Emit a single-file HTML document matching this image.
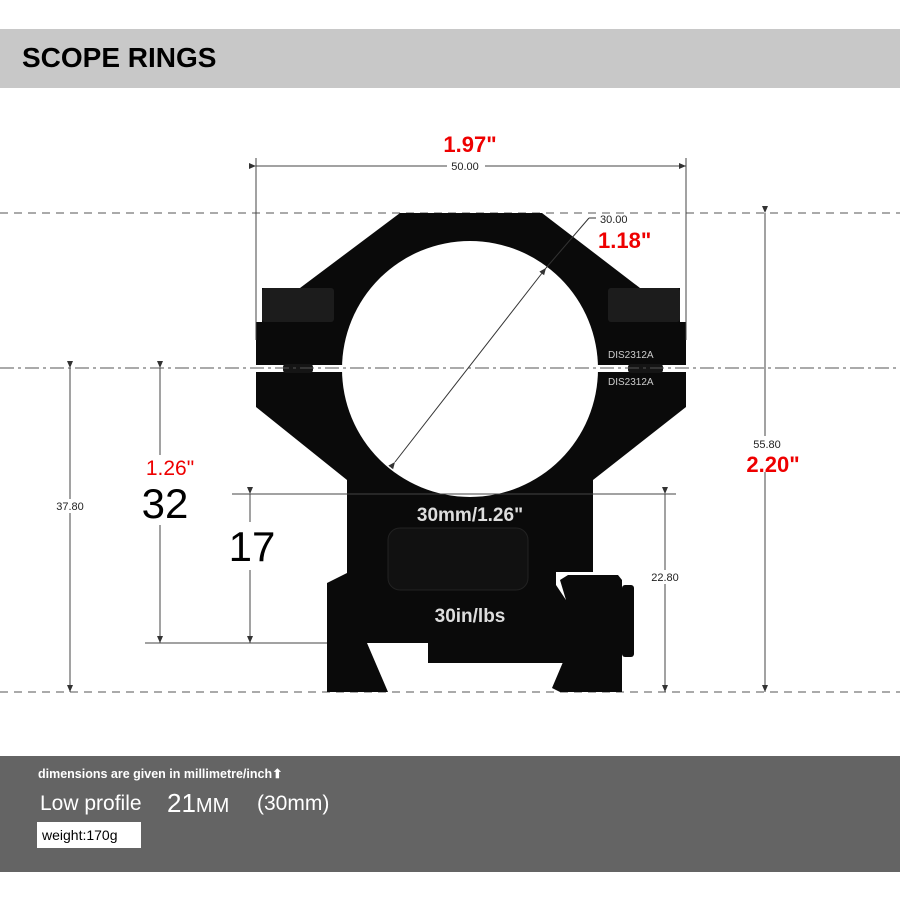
<!DOCTYPE html>
<html><head><meta charset="utf-8"><style>
html,body{margin:0;padding:0;background:#fff;}
body{width:900px;height:900px;position:relative;overflow:hidden;font-family:"Liberation Sans",sans-serif;}
</style></head><body>
<svg width="900" height="900" viewBox="0 0 900 900" style="position:absolute;left:0;top:0">
<defs>
<marker id="a" markerWidth="8" markerHeight="8" refX="7" refY="4" orient="auto" markerUnits="userSpaceOnUse"><path d="M0,1 L7,4 L0,7 Z" fill="#333"/></marker>
</defs>
<rect x="0" y="29" width="900" height="59" fill="#c8c8c8"/>
<text x="22" y="67" font-size="28" font-weight="bold" fill="#000">SCOPE RINGS</text>
<rect x="0" y="756" width="900" height="116" fill="#646464"/>
<text x="38" y="778" font-size="12.5" font-weight="bold" fill="#fff">dimensions are given in millimetre/inch⬆</text>
<text x="40" y="810" font-size="21" fill="#fff">Low profile</text>
<text x="167" y="812" font-size="26" fill="#fff">21<tspan font-size="20">MM</tspan></text>
<text x="257" y="810" font-size="21" fill="#fff">(30mm)</text>
<rect x="37" y="822" width="104" height="26" fill="#fff"/>
<text x="42" y="840" font-size="14" fill="#000">weight:170g</text>

<line x1="0" y1="213" x2="900" y2="213" stroke="#555" stroke-dasharray="8,6"/>
<line x1="0" y1="692" x2="900" y2="692" stroke="#555" stroke-dasharray="8,6"/>

<!-- ring body -->
<g fill="#0a0a0a">
<path d="M400,213 L542,213 L640,288 L680,288 L680,322 L686,322 L686,407 L593,480 L593,572 L556,572 L556,585 L566,600 L566,663 L428,663 L428,643 L367,643 L388,692 L327,692 L327,583 L347,573 L347,480 L256,407 L256,322 L262,322 L262,288 L300,288 Z"/>
<path d="M560,580 L568,575 L618,575 L622,580 L622,692 L560,692 L552,688 L566,655 L566,600 Z"/>
<rect x="622" y="585" width="12" height="72" rx="3"/>
</g>
<rect x="256" y="365" width="430" height="7" fill="#fff"/>
<rect x="283" y="364" width="30" height="9" rx="3" fill="#151515"/>
<rect x="628" y="364" width="35" height="9" rx="3" fill="#151515"/>
<circle cx="470" cy="369" r="128" fill="#fff"/>
<rect x="262" y="288" width="72" height="34" rx="3" fill="#1c1c1c"/>
<rect x="608" y="288" width="72" height="34" rx="3" fill="#1c1c1c"/>
<line x1="0" y1="368" x2="900" y2="368" stroke="#555" stroke-dasharray="14,4,3,4"/>
<rect x="388" y="528" width="140" height="62" rx="12" fill="#111" stroke="#222"/>
<text x="470" y="521" font-size="19" font-weight="bold" fill="#ddd" text-anchor="middle">30mm/1.26"</text>
<text x="470" y="622" font-size="19" font-weight="bold" fill="#ddd" text-anchor="middle">30in/lbs</text>
<text x="608" y="358" font-size="10" fill="#ccc">DIS2312A</text>
<text x="608" y="385" font-size="10" fill="#ccc">DIS2312A</text>

<line x1="395" y1="462" x2="546" y2="268" stroke="#333" marker-end="url(#a)" marker-start="url(#a)"/>
<line x1="546" y1="268" x2="589" y2="218" stroke="#333"/>
<line x1="589" y1="218" x2="596" y2="218" stroke="#333"/>
<text x="600" y="223" font-size="11" fill="#222">30.00</text>
<text x="598" y="248" font-size="22" font-weight="bold" fill="#e00">1.18"</text>

<g stroke="#444" stroke-width="1">
<line x1="256" y1="158" x2="256" y2="340"/>
<line x1="686" y1="158" x2="686" y2="340"/>
<line x1="256" y1="166" x2="686" y2="166" marker-end="url(#a)" marker-start="url(#a)"/>
<line x1="70" y1="368" x2="70" y2="692" marker-end="url(#a)" marker-start="url(#a)"/>
<line x1="160" y1="368" x2="160" y2="643" marker-end="url(#a)" marker-start="url(#a)"/>
<line x1="145" y1="643" x2="327" y2="643"/>
<line x1="232" y1="494" x2="676" y2="494"/>
<line x1="250" y1="494" x2="250" y2="643" marker-end="url(#a)" marker-start="url(#a)"/>
<line x1="665" y1="494" x2="665" y2="692" marker-end="url(#a)" marker-start="url(#a)"/>
<line x1="765" y1="213" x2="765" y2="692" marker-end="url(#a)" marker-start="url(#a)"/>
</g>
<rect x="447" y="159" width="38" height="13" fill="#fff"/>
<text x="465" y="170" font-size="11" fill="#222" text-anchor="middle">50.00</text>
<text x="470" y="152" font-size="22" font-weight="bold" fill="#e00" text-anchor="middle">1.97"</text>
<rect x="50" y="499" width="40" height="14" fill="#fff"/>
<text x="70" y="510" font-size="11" fill="#222" text-anchor="middle">37.80</text>
<rect x="138" y="455" width="50" height="70" fill="#fff"/>
<text x="170" y="475" font-size="21" fill="#e00" text-anchor="middle">1.26"</text>
<text x="165" y="518" font-size="42" fill="#000" text-anchor="middle">32</text>
<rect x="225" y="522" width="55" height="48" fill="#fff"/>
<text x="252" y="561" font-size="42" fill="#000" text-anchor="middle">17</text>
<rect x="645" y="570" width="40" height="14" fill="#fff"/>
<text x="665" y="581" font-size="11" fill="#222" text-anchor="middle">22.80</text>
<rect x="740" y="436" width="66" height="36" fill="#fff"/>
<text x="767" y="448" font-size="11" fill="#222" text-anchor="middle">55.80</text>
<text x="773" y="472" font-size="22" font-weight="bold" fill="#e00" text-anchor="middle">2.20"</text>
</svg>
</body></html>
